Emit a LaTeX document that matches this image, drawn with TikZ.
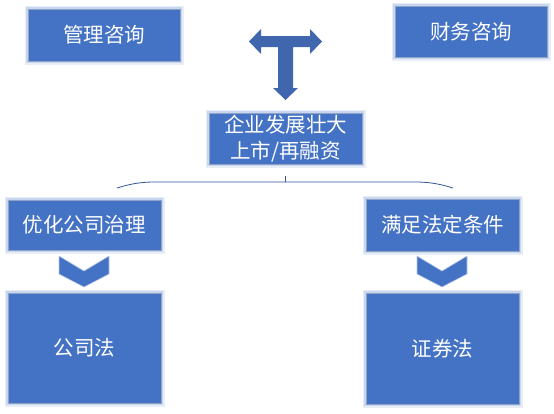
\documentclass[tikz,border=0pt]{standalone}
\usepackage{fontspec}
\newfontfamily\cjk{Noto Sans CJK SC}
\usetikzlibrary{positioning}
\definecolor{boxblue}{HTML}{4472C4}
\definecolor{boxedge}{HTML}{8FA3C6}
\definecolor{glowblue}{HTML}{B4C7E7}
\definecolor{arrowblue}{HTML}{4067AE}
\definecolor{bracelines}{HTML}{2F5597}
\tikzset{
	blockbox/.style={fill=boxblue,draw=boxedge,line width=0.8pt,text=white,align=center,
		font=\cjk\fontsize{20.5}{26}\selectfont,inner sep=0pt,
		preaction={draw=glowblue,line width=7pt,opacity=0.3},
		preaction={draw=glowblue,line width=3.5pt,opacity=0.6}},
	chevron/.style={fill=boxblue,draw=glowblue,line width=0.6pt}
}
\begin{document}
\begin{tikzpicture}[x=1pt,y=-1pt]
	\useasboundingbox (0,0) rectangle (554,413);
				\node[blockbox,minimum width=152pt,minimum height=52pt] at (104,35) (mgmt) {管理咨询};
				\node[blockbox,minimum width=152pt,minimum height=51pt] at (471,31.5) (fin) {财务咨询};
				\node[blockbox,minimum width=153pt,minimum height=51pt] at (285.5,138.5) (grow) {企业发展壮大\\上市/再融资};
				\node[blockbox,minimum width=153pt,minimum height=50pt] at (84.5,225) (gov) {优化公司治理};
				\node[blockbox,minimum width=153pt,minimum height=52pt] at (442.5,225) (cond) {满足法定条件};
				\node[blockbox,minimum width=153pt,minimum height=110pt] at (84.5,348) (colaw) {公司法};
				\node[blockbox,minimum width=153pt,minimum height=111pt] at (442.5,348.5) (seclaw) {证券法};
				
				% T-shaped block arrow above the middle box
				\fill[arrowblue] (249,41.5) -- (261,29) -- (261,36) -- (310,36) -- (310,29) -- (322,41.5)
					-- (310,54) -- (310,47) -- (293,47) -- (293,88) -- (298,88) -- (285.5,100)
					-- (273,88) -- (278,88) -- (278,47) -- (261,47) -- (261,54) -- cycle;
				
				% brace under the middle box
				\coordinate (bl) at (117,188);
				\coordinate (br) at (453,188);
				\coordinate (bm) at (grow.south |- 0,182);
				\draw[bracelines,line width=0.8pt] (bl) .. controls (130,184) and (140,182) .. (155,182) -- (415,182)
					.. controls (430,182) and (440,184) .. (br);
				\draw[bracelines,line width=0.8pt] (bm) -- ++(0,-6);
				
				% chevrons between the boxes
				\draw[chevron] (59,256) -- (84,271) -- (109,256) -- (109,274) -- (84,287) -- (59,274) -- cycle;
				\draw[chevron] (417,256) -- (442,271) -- (467,256) -- (467,274) -- (442,287) -- (417,274) -- cycle;
\end{tikzpicture}
\end{document}
